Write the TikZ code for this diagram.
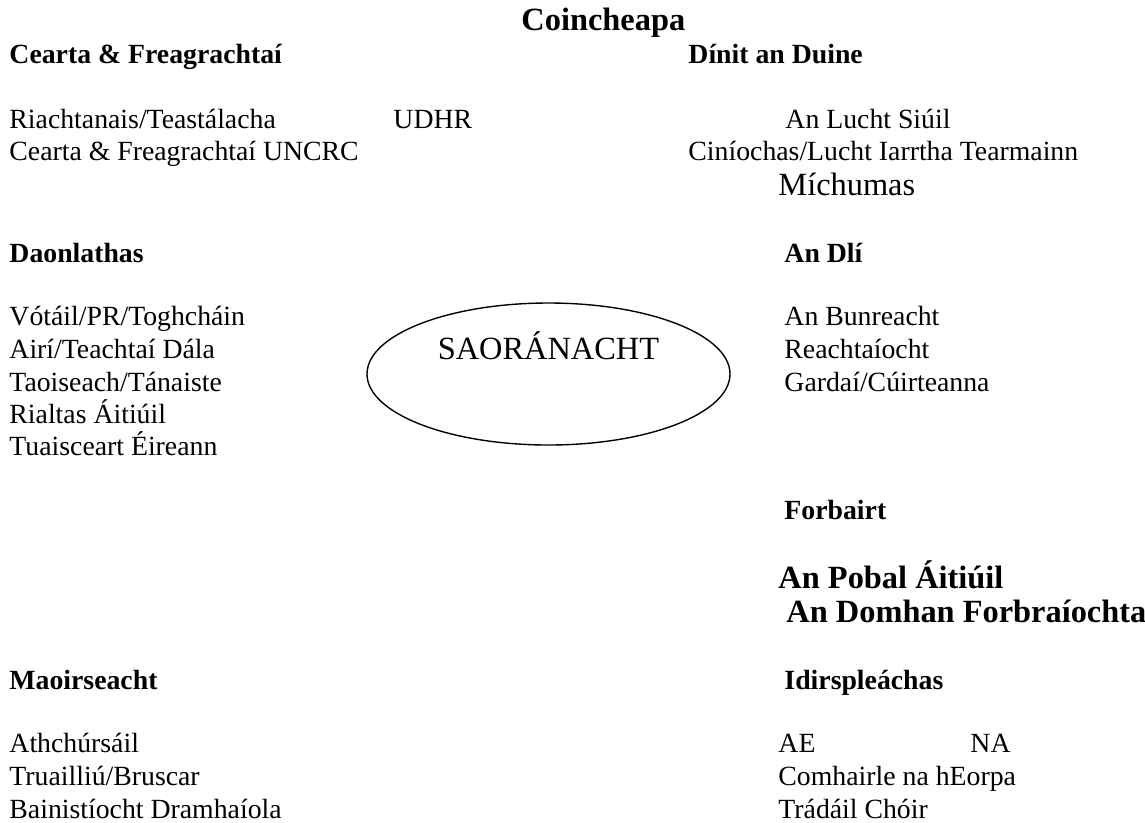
\documentclass[tikz,border=0pt]{standalone}
\usepackage{fontspec}
\setmainfont{Liberation Serif}
\begin{document}
\begin{tikzpicture}[x=0.4322pt,y=-0.4322pt,
  txt/.style={anchor=base west,inner sep=0pt,font=\fontsize{12}{14}\selectfont},
  hdr/.style={anchor=base west,inner sep=0pt,font=\fontsize{12}{14}\selectfont\bfseries},
  big/.style={anchor=base west,inner sep=0pt,font=\fontsize{14}{16}\selectfont\bfseries},
  bigr/.style={anchor=base west,inner sep=0pt,font=\fontsize{14}{16}\selectfont},
  oval/.style={draw,line width=0.6pt}]
\useasboundingbox[fill=white] (0,0) rectangle (1145,822);
% title
\node[big] (title) at (521,30) {Coincheapa};
% Cearta
\node[hdr] (h1) at (9,63) {Cearta \& Freagrachtaí};
\node[txt] (t11) at (9,128) {Riachtanais/Teastálacha};
\node[txt] (t12) at (393,128) {UDHR};
\node[txt] (t13) at (9,160) {Cearta \& Freagrachtaí UNCRC};
% Dinit
\node[hdr] (h2) at (688,63) {Dínit an Duine};
\node[txt] (t21) at (785,128) {An Lucht Siúil};
\node[txt] (t22) at (688,160) {Ciníochas/Lucht Iarrtha Tearmainn};
\node[bigr] (t23) at (778,195) {Míchumas};
% Daonlathas
\node[hdr] (h3) at (9,262) {Daonlathas};
\node[txt] (t31) at (9,325) {Vótáil/PR/Toghcháin};
\node[txt] (t32) at (9,358) {Airí/Teachtaí Dála};
\node[txt] (t33) at (9,391) {Taoiseach/Tánaiste};
\node[txt] (t34) at (9,423) {Rialtas Áitiúil};
\node[txt] (t35) at (9,455) {Tuaisceart Éireann};
% An Dli
\node[hdr] (h4) at (784,262) {An Dlí};
\node[txt] (t41) at (784,325) {An Bunreacht};
\node[txt] (t42) at (784,358) {Reachtaíocht};
\node[txt] (t43) at (784,391) {Gardaí/Cúirteanna};
% centre
\draw[oval] (548.5,374) ellipse [x radius=181.5, y radius=71];
\node[anchor=base,inner sep=0pt,font=\fontsize{14}{16}\selectfont] (c) at (548.5,359) {SAORÁNACHT};
% Forbairt
\node[hdr] (h5) at (784,519) {Forbairt};
\node[big] (t51) at (778,588) {An Pobal Áitiúil};
\node[big] (t52) at (786,622) {An Domhan Forbraíochta};
% Maoirseacht
\node[hdr] (h6) at (9,689) {Maoirseacht};
\node[txt] (t61) at (9,752) {Athchúrsáil};
\node[txt] (t62) at (9,785) {Truailliú/Bruscar};
\node[txt] (t63) at (9,818) {Bainistíocht Dramhaíola};
% Idirspleachas
\node[hdr] (h7) at (784,689) {Idirspleáchas};
\node[txt] (t71) at (778,752) {AE};
\node[txt] (t72) at (970,752) {NA};
\node[txt] (t73) at (778,785) {Comhairle na hEorpa};
\node[txt] (t74) at (778,818) {Trádáil Chóir};
\end{tikzpicture}
\end{document}
